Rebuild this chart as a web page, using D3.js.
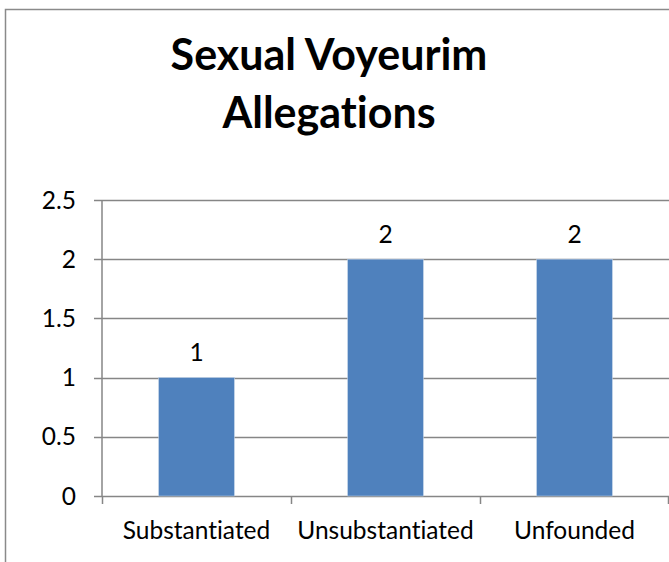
<!DOCTYPE html>
<html>
<head>
<meta charset="utf-8">
<script src="https://cdn.jsdelivr.net/npm/d3@7"></script>
<style>
  body { margin: 0; background: #fff; }
  svg text { font-family: Lato, "Open Sans", sans-serif; fill: #000; font-variant-ligatures: none; }
</style>
</head>
<body>
<svg id="chart" width="669" height="562"></svg>
<script>
var categories = ["Substantiated", "Unsubstantiated", "Unfounded"];
var values = [1, 2, 2];
var yTicks = [0, 0.5, 1, 1.5, 2, 2.5];
var titleLines = ["Sexual Voyeurim", "Allegations"];

var svg = d3.select("#chart");
var gridColor = "#868686";

// outer frame (cropped on right/bottom)
svg.append("path")
  .attr("d", "M5.5,562 V9.5 H669")
  .attr("fill", "none")
  .attr("stroke", "#8a8a8a")
  .attr("stroke-width", 1.5);

// title
svg.append("text")
  .attr("x", 329).attr("y", 70)
  .attr("text-anchor", "middle")
  .style("font-size", "43px").style("font-weight", "bold")
  .selectAll("tspan").data(titleLines).enter().append("tspan")
  .attr("x", 329)
  .attr("dy", (d, i) => i == 0 ? 0 : 58)
  .text(d => d);

var x = d3.scaleBand()
  .domain(categories)
  .range([102, 669])
  .paddingInner(0.6)
  .paddingOuter(0.3);

var y = d3.scaleLinear()
  .domain([0, 2.5])
  .range([496, 200]);

// gridlines
svg.append("g")
  .selectAll("line").data(yTicks).enter().append("line")
  .attr("x1", 94).attr("x2", 669)
  .attr("y1", d => Math.round(y(d)) + 0.5)
  .attr("y2", d => Math.round(y(d)) + 0.5)
  .attr("stroke", gridColor).attr("stroke-width", 1.5);

// y axis line
svg.append("line")
  .attr("x1", 102).attr("x2", 102)
  .attr("y1", y(2.5)).attr("y2", y(0))
  .attr("stroke", gridColor).attr("stroke-width", 1.5);

// y labels
svg.append("g")
  .selectAll("text").data(yTicks).enter().append("text")
  .attr("x", 76).attr("y", d => y(d))
  .attr("dy", "0.35em")
  .attr("text-anchor", "end")
  .style("font-size", "24.5px")
  .text(d => d);

// category boundary ticks
var step = x.step();
var bounds = d3.range(categories.length + 1).map(i => x.range()[0] + i * step);
svg.append("g")
  .selectAll("line").data(bounds).enter().append("line")
  .attr("x1", d => Math.min(Math.round(d), 668) + 0.5)
  .attr("x2", d => Math.min(Math.round(d), 668) + 0.5)
  .attr("y1", y(0)).attr("y2", y(0) + 8)
  .attr("stroke", gridColor).attr("stroke-width", 1.5);

// bars
svg.append("g")
  .selectAll("rect").data(values).enter().append("rect")
  .attr("x", (d, i) => x(categories[i]))
  .attr("y", d => y(d))
  .attr("width", x.bandwidth())
  .attr("height", d => y(0) - y(d))
  .attr("fill", "#4f81bd")
  .attr("stroke", "#b9cde5")
  .attr("stroke-width", 0.6);

// value labels
svg.append("g")
  .selectAll("text").data(values).enter().append("text")
  .attr("x", (d, i) => x(categories[i]) + x.bandwidth() / 2)
  .attr("y", d => y(d) - 25)
  .attr("dy", "0.35em")
  .attr("text-anchor", "middle")
  .style("font-size", "24.5px")
  .text(d => d);

// category labels
svg.append("g")
  .selectAll("text").data(categories).enter().append("text")
  .attr("x", d => x(d) + x.bandwidth() / 2)
  .attr("y", 530)
  .attr("dy", "0.35em")
  .attr("text-anchor", "middle")
  .style("font-size", "24.5px")
  .text(d => d);
</script>
</body>
</html>
